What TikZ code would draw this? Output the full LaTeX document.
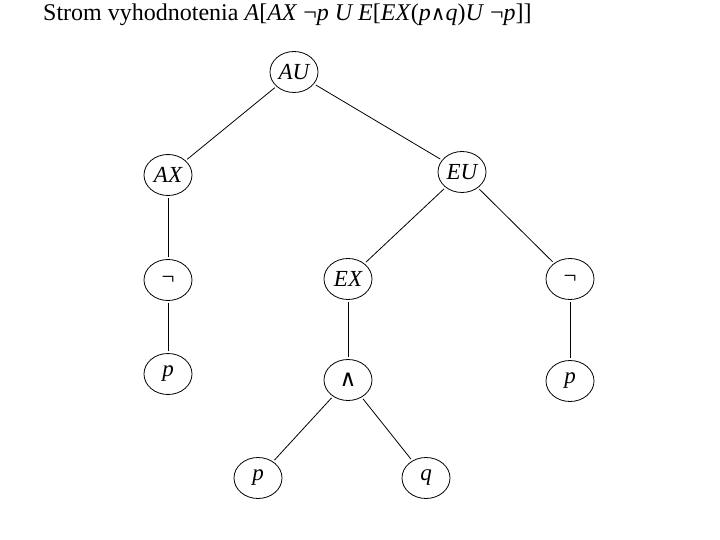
\documentclass[tikz,border=0pt]{standalone}
\usepackage{fontspec}
\setmainfont{Liberation Serif}
\newfontfamily\symfont{DejaVu Serif}
\usetikzlibrary{positioning,shapes.geometric}

\newcommand{\tneg}{{\upshape ¬}}
\newcommand{\tand}{{\symfont\upshape ∧}}

\begin{document}
\begin{tikzpicture}[
    x=1pt, y=-1pt,
    vertex/.style={ellipse, draw, line width=0.8pt, minimum width=48pt, minimum height=41pt, inner sep=0pt, font=\fontsize{23}{25}\selectfont\itshape},
    edge/.style={line width=0.8pt, shorten <=2pt, shorten >=2pt},
    title/.style={anchor=base west, inner sep=0pt, font=\fontsize{24}{26}\selectfont}
]
\useasboundingbox (0,0) rectangle (720,540);

% Title
\node[title] (title) at (43,21) {Strom vyhodnotenia \textit{A}[\textit{AX} \tneg\textit{p U E}[\textit{EX}(\textit{p}{\fontsize{20}{22}\selectfont\tand}\textit{q})\textit{U} \tneg\textit{p}]]};

% Level 1: root
\node[vertex] (au) at (294,72) {AU};

% Level 2
\node[vertex] (ax) at (168,175) {AX};
\node[vertex] (eu) at (462,172) {EU};

% Level 3
\node[vertex] (negl) at (168,280) {\tneg};
\node[vertex] (ex) at (348,279) {EX};
\node[vertex] (negr) at (570,279) {\tneg};

% Level 4
\node[vertex] (pl) at (168,374) {p};
\node[vertex] (and) at (348,380) {{\fontsize{23}{25}\selectfont\tand}};
\node[vertex] (pr) at (570,381) {p};

% Level 5
\node[vertex] (pb) at (258,478) {p};
\node[vertex] (q) at (426,478) {q};

% Edges
\draw[edge] (au) -- (ax);
\draw[edge] (au) -- (eu);
\draw[edge] (ax) -- (negl);
\draw[edge] (negl) -- (pl);
\draw[edge] (eu) -- (ex);
\draw[edge] (eu) -- (negr);
\draw[edge] (ex) -- (and);
\draw[edge] (negr) -- (pr);
\draw[edge] (and) -- (pb);
\draw[edge] (and) -- (q);

\end{tikzpicture}
\end{document}
